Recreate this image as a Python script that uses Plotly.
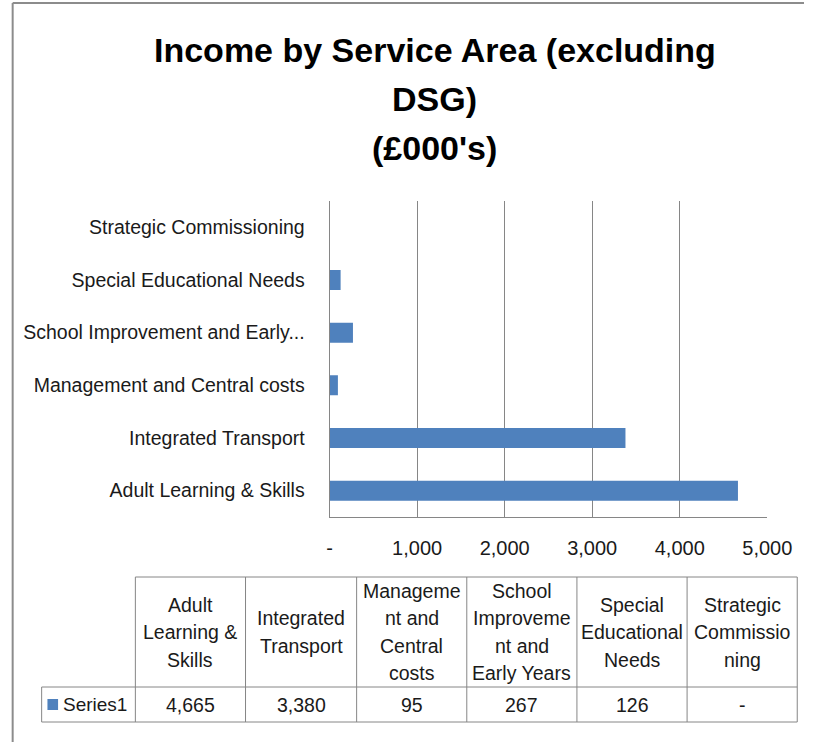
import plotly.graph_objects as go

W, H = 829, 742

categories = ["Adult Learning & Skills", "Integrated Transport", "Management and Central costs",
              "School Improvement and Early Years", "Special Educational Needs", "Strategic Commissioning"]
axis_labels = ["Adult Learning & Skills", "Integrated Transport", "Management and Central costs",
               "School Improvement and Early...", "Special Educational Needs", "Strategic Commissioning"]
values = [4665, 3380, 95, 267, 126, 0]
table_headers = ["Adult\nLearning &\nSkills", "Integrated\nTransport", "Manageme\nnt and\nCentral\ncosts",
                 "School\nImproveme\nnt and\nEarly Years", "Special\nEducational\nNeeds", "Strategic\nCommissio\nning"]
table_values = ["4,665", "3,380", "95", "267", "126", "-"]
series_name = "Series1"
x_tickvals = [0, 1000, 2000, 3000, 4000, 5000]
x_ticktext = ["-", "1,000", "2,000", "3,000", "4,000", "5,000"]
title_lines = ["Income by Service Area (excluding", "DSG)", "(£000's)"]

FONT = "Liberation Sans, Arial, sans-serif"
BAR = "#4F81BD"
GRID = "#868686"
TXT = "#1a1a1a"

def px(x):
    return x / W

def py(y):
    return 1 - y / H

fig = go.Figure()
fig.add_trace(go.Bar(
    y=categories, x=values, orientation="h", marker=dict(color=BAR, line=dict(width=0)),
    name=series_name, showlegend=False, width=0.38,
))

shapes = []
annotations = []

# outer chart border (left and top)
shapes.append(dict(type="line", xref="paper", yref="paper", x0=px(10), x1=px(10), y0=py(3), y1=py(742),
                   line=dict(color="#8c8c8c", width=2)))
shapes.append(dict(type="line", xref="paper", yref="paper", x0=px(10), x1=px(829), y0=py(3), y1=py(3),
                   line=dict(color="#8c8c8c", width=2)))

# title
for i, t in enumerate(title_lines):
    annotations.append(dict(text="<b>" + t + "</b>", xref="paper", yref="paper", x=px(447), y=py(50 + i * 49),
                            xanchor="center", yanchor="middle", showarrow=False,
                            font=dict(family=FONT, size=34, color="#000")))

# data table
col_edges = [137, 251, 366, 480, 594, 708, 822]
top, mid, bot = 577, 687, 722
lc = dict(color=GRID, width=1)
shapes.append(dict(type="line", xref="paper", yref="paper", x0=px(137), x1=px(822), y0=py(top), y1=py(top), line=lc))
shapes.append(dict(type="line", xref="paper", yref="paper", x0=px(40), x1=px(822), y0=py(mid), y1=py(mid), line=lc))
shapes.append(dict(type="line", xref="paper", yref="paper", x0=px(40), x1=px(822), y0=py(bot), y1=py(bot), line=lc))
shapes.append(dict(type="line", xref="paper", yref="paper", x0=px(40), x1=px(40), y0=py(mid), y1=py(bot), line=lc))
for e in col_edges:
    shapes.append(dict(type="line", xref="paper", yref="paper", x0=px(e), x1=px(e), y0=py(top), y1=py(bot), line=lc))

for i, h in enumerate(table_headers):
    cx = (col_edges[i] + col_edges[i + 1]) / 2
    lines = h.split("\n")
    n = len(lines)
    center = (top + mid) / 2
    step = 27.5
    for j, ln in enumerate(lines):
        yy = center + (j - (n - 1) / 2) * step
        annotations.append(dict(text=ln, xref="paper", yref="paper", x=px(cx), y=py(yy),
                                xanchor="center", yanchor="middle", showarrow=False,
                                font=dict(family=FONT, size=19.5, color=TXT)))
    annotations.append(dict(text=table_values[i], xref="paper", yref="paper", x=px(cx), y=py((mid + bot) / 2),
                            xanchor="center", yanchor="middle", showarrow=False,
                            font=dict(family=FONT, size=19.5, color=TXT)))

# legend key in table
shapes.append(dict(type="rect", xref="paper", yref="paper", x0=px(46), x1=px(57), y0=py(699), y1=py(710),
                   fillcolor=BAR, line=dict(width=0)))
annotations.append(dict(text=series_name, xref="paper", yref="paper", x=px(60), y=py((mid + bot) / 2),
                        xanchor="left", yanchor="middle", showarrow=False,
                        font=dict(family=FONT, size=19, color=TXT)))

fig.update_layout(
    width=W, height=H, margin=dict(l=0, r=0, t=0, b=0),
    paper_bgcolor="white", plot_bgcolor="white",
    bargap=0.62,
    shapes=shapes, annotations=annotations,
    xaxis=dict(domain=[px(338), px(791)], range=[0, 5000], tickvals=x_tickvals, ticktext=x_ticktext,
               showgrid=True, gridcolor=GRID, gridwidth=1, zeroline=False,
               showline=True, linecolor=GRID, linewidth=1, mirror=False,
               ticks="", ticklabelstandoff=13,
               tickfont=dict(family=FONT, size=20, color=TXT)),
    yaxis=dict(domain=[py(517), py(201)], categoryorder="array", categoryarray=categories,
               tickvals=categories, ticktext=axis_labels,
               showgrid=False, showline=True, linecolor=GRID, linewidth=1, ticks="",
               ticklabelstandoff=20, tickfont=dict(family=FONT, size=19.5, color=TXT)),
)

fig.write_html("out.html")
